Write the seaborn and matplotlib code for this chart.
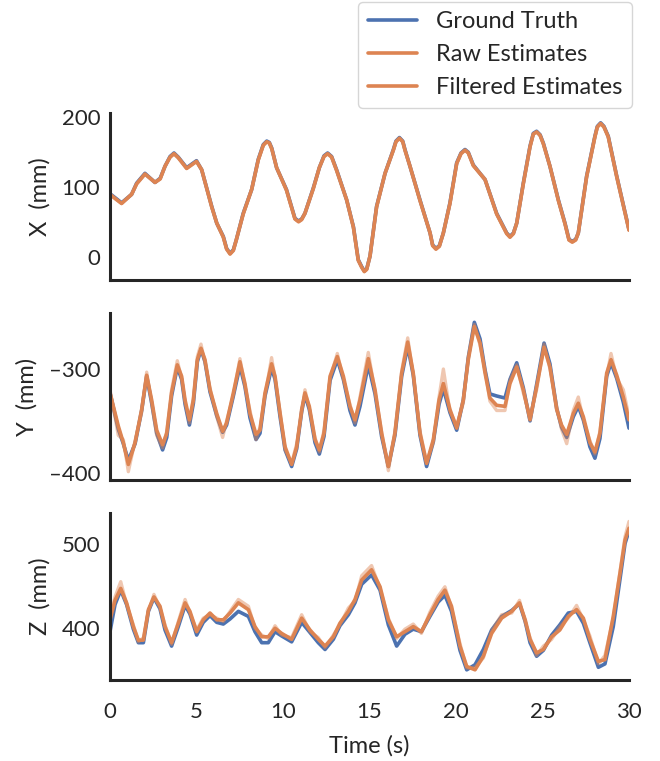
import matplotlib
matplotlib.use("Agg")
import matplotlib.pyplot as plt
from matplotlib.ticker import FuncFormatter
import seaborn as sns
import pandas as pd

# ---------------- data ----------------
x_time = [0, 0.67, 1.25, 1.54, 2.02, 2.6, 2.9, 3.18, 3.47, 3.7,
          3.95, 4.43, 5.0, 5.3, 5.88, 6.17, 6.55, 6.74, 6.94, 7.13,
          7.3, 7.7, 8.19, 8.57, 8.86, 9.06, 9.21, 9.35, 9.63, 10.2,
          10.69, 10.9, 11.08, 11.27, 11.75, 12.1, 12.37, 12.58, 12.81, 13.1,
          13.68, 14.07, 14.35, 14.55, 14.7, 14.84, 15.03, 15.41, 15.9, 16.38,
          16.53, 16.73, 16.92, 17.05, 17.34, 17.92, 18.5, 18.65, 18.84, 19.04,
          19.27, 19.65, 20.04, 20.29, 20.52, 20.71, 21.0, 21.68, 22.35, 22.93,
          23.12, 23.32, 23.51, 23.89, 24.28, 24.47, 24.66, 24.86, 25.05, 25.43,
          25.92, 26.3, 26.53, 26.72, 26.92, 27.07, 27.55, 28.03, 28.17, 28.36,
          28.55, 28.8, 29.29, 30.0]
x_truth = [90, 77, 89, 105, 119, 106, 112, 129, 143, 148,
           142, 127, 137, 124, 72, 48, 29, 12, 5, 10,
           24, 62, 96, 139, 160, 165, 163, 155, 127, 96,
           55, 51, 54, 62, 98, 127, 144, 148, 143, 124,
           81, 43, -4, -14, -20, -17, 1, 72, 119, 153,
           165, 170, 165, 153, 129, 81, 34, 17, 12, 16,
           34, 77, 134, 148, 153, 149, 131, 110, 62, 34,
           29, 34, 48, 105, 158, 176, 179, 174, 162, 129,
           81, 48, 25, 22, 25, 34, 115, 172, 186, 191,
           186, 172, 115, 39]
x_raw = [88, 76, 90, 104, 118, 107, 111, 130, 142, 147,
         142, 126, 136, 125, 71, 49, 28, 12, 4, 10,
         25, 61, 97, 138, 159, 164, 163, 154, 128, 95,
         54, 50, 54, 63, 97, 128, 143, 147, 143, 123,
         82, 42, -5, -15, -21, -17, 2, 71, 120, 152,
         164, 169, 165, 152, 130, 80, 35, 16, 11, 16,
         35, 76, 133, 148, 152, 149, 130, 111, 61, 34,
         28, 34, 49, 104, 157, 175, 178, 174, 161, 130,
         80, 47, 24, 21, 25, 35, 114, 171, 185, 190,
         186, 171, 116, 38]
x_filtered = [89, 76, 89, 104, 118, 106, 111, 129, 142, 147,
              141, 126, 136, 124, 71, 48, 28, 11, 4, 9,
              24, 61, 96, 138, 159, 164, 162, 154, 127, 95,
              54, 50, 53, 62, 97, 127, 143, 147, 142, 123,
              81, 42, -5, -15, -21, -18, 1, 71, 119, 152,
              164, 169, 164, 152, 129, 80, 34, 16, 11, 15,
              34, 76, 133, 147, 152, 148, 130, 110, 61, 33,
              28, 33, 48, 104, 157, 175, 178, 173, 161, 129,
              80, 47, 24, 21, 24, 34, 114, 171, 185, 190,
              185, 171, 114, 38]

y_time = [0, 0.48, 0.77, 1.06, 1.45, 1.83, 2.12, 2.41, 2.7, 3.04, 3.28, 3.56, 3.89, 4.14,
          4.34, 4.59, 4.82, 5.05, 5.26, 5.49, 5.78, 6.17, 6.51, 6.74, 7.13, 7.51, 7.8, 8.09,
          8.44, 8.67, 8.96, 9.34, 9.54, 9.83, 10.12, 10.5, 10.79, 11.08, 11.27, 11.52, 11.85,
          12.1, 12.37, 12.72, 13.14, 13.49, 13.87, 14.16, 14.45, 14.93, 15.32, 15.7, 16.09,
          16.47, 16.86, 17.21, 17.53, 17.92, 18.3, 18.69, 19.02, 19.27, 19.65, 20.04, 20.42,
          20.71, 21.06, 21.39, 21.68, 21.96, 22.35, 22.83, 23.12, 23.51, 23.89, 24.28, 24.66,
          25.09, 25.43, 25.82, 26.1, 26.4, 26.78, 27.07, 27.36, 27.74, 28.03, 28.32, 28.71,
          28.96, 29.29, 29.67, 30.0]
y_truth = [-323, -358, -372, -388, -372, -340, -307, -333, -362, -378, -366, -326, -298, -310,
           -334, -354, -333, -293, -281, -293, -322, -345, -361, -354, -326, -297, -317, -347,
           -368, -362, -326, -299, -310, -346, -378, -394, -377, -341, -325, -339, -371,
           -382, -365, -311, -291, -310, -340, -354, -336, -296, -324, -365, -394,
           -364, -307, -278, -306, -364, -394, -370, -334, -319, -342, -359, -330,
           -289, -255, -271, -301, -324, -326, -328, -310, -294, -318, -350, -315,
           -275, -295, -338, -356, -366, -346, -336, -349, -375, -386, -367, -307,
           -294, -309, -332, -357]
y_raw = [-320, -364, -368, -399, -369, -342, -303, -333, -364, -376, -360, -320, -292, -309,
         -332, -352, -327, -288, -276, -294, -318, -346, -366, -350, -325, -290, -316, -340,
         -368, -356, -326, -289, -309, -341, -378, -391, -372, -342, -320, -338, -366,
         -380, -359, -309, -285, -310, -334, -352, -327, -284, -322, -360, -398,
         -360, -302, -270, -306, -360, -390, -371, -327, -300, -341, -354, -333,
         -288, -257, -277, -301, -331, -340, -340, -311, -296, -323, -346, -320,
         -276, -300, -336, -358, -372, -340, -327, -349, -369, -382, -360, -307,
         -285, -309, -320, -346]
y_filtered = [-323, -355, -371, -392, -371, -339, -306, -330, -359, -373, -362, -323, -296, -307,
              -330, -349, -330, -291, -280, -291, -320, -343, -360, -352, -323, -293, -314, -343,
              -363, -359, -323, -295, -307, -343, -375, -392, -375, -339, -323, -336, -368,
              -378, -362, -307, -288, -307, -336, -349, -330, -290, -320, -362, -394,
              -362, -304, -274, -304, -362, -391, -368, -330, -314, -339, -357, -330,
              -291, -259, -275, -304, -328, -335, -336, -314, -298, -320, -349, -317,
              -279, -298, -339, -354, -363, -343, -333, -346, -371, -380, -362, -304,
              -291, -306, -327, -349]

z_time = [0, 0.29, 0.62, 0.96, 1.35, 1.64, 1.93, 2.22, 2.54, 2.89, 3.18, 3.56, 3.95, 4.34,
          4.62, 5.01, 5.39, 5.78, 6.17, 6.55, 6.94, 7.42, 8.0, 8.38, 8.77, 9.15, 9.54, 9.92,
          10.5, 11.08, 11.56, 12.04, 12.43, 12.91, 13.29, 13.78, 14.16, 14.55, 15.12, 15.61,
          16.09, 16.57, 17.05, 17.53, 18.0, 18.49, 18.97, 19.36, 19.74, 20.23, 20.62, 21.1,
          21.58, 22.06, 22.64, 23.22, 23.67, 24.0, 24.28, 24.66, 25.05, 25.53, 26.0, 26.49,
          26.97, 27.36, 27.74, 28.23, 28.61, 29.09, 29.48, 29.77, 30.0]
z_truth = [396, 428, 445, 428, 399, 383, 383, 420, 436, 423, 398, 379, 402, 427,
           417, 392, 407, 415, 407, 405, 411, 420, 414, 396, 383, 383, 396, 391,
           384, 407, 395, 383, 375, 387, 403, 416, 430, 452, 463, 445,
           404, 379, 393, 399, 396, 414, 431, 439, 420, 374, 351, 357,
           375, 398, 414, 421, 429, 408, 383, 367, 374, 392, 404, 418,
           420, 406, 383, 354, 358, 402, 458, 500, 515]
z_raw = [412, 437, 455, 428, 404, 384, 389, 420, 440, 424, 404, 381, 408, 434,
         418, 398, 412, 416, 412, 408, 420, 434, 426, 400, 392, 388, 403, 392,
         389, 416, 396, 389, 377, 392, 404, 424, 432, 462, 474, 447,
         412, 388, 399, 405, 394, 419, 438, 449, 424, 382, 353, 354,
         365, 397, 416, 418, 433, 407, 389, 368, 379, 387, 402, 412,
         427, 410, 391, 358, 368, 412, 467, 508, 526]
z_filtered = [410, 433, 447, 430, 402, 386, 386, 422, 437, 426, 402, 383, 406, 430,
              420, 396, 410, 418, 410, 410, 418, 430, 422, 402, 390, 390, 400, 394,
              387, 412, 398, 387, 379, 390, 406, 420, 434, 457, 469, 449,
              410, 390, 396, 402, 396, 416, 434, 445, 426, 379, 355, 351,
              367, 394, 412, 420, 430, 410, 387, 371, 375, 390, 398, 414,
              422, 412, 387, 361, 363, 414, 465, 504, 518]

axis_names = ["X", "Y", "Z"]
series_names = ["Ground Truth", "Raw Estimates", "Filtered Estimates"]
x_ticks = [0, 5, 10, 15, 20, 25, 30]

# ---------------- style ----------------
sns.set_theme(style="white")
plt.rcParams["font.family"] = ["Lato", "DejaVu Sans"]
plt.rcParams["font.size"] = 16
plt.rcParams["axes.edgecolor"] = ".15"
plt.rcParams["text.color"] = ".15"
plt.rcParams["axes.labelcolor"] = ".15"
plt.rcParams["xtick.color"] = ".15"
plt.rcParams["ytick.color"] = ".15"
plt.rcParams["lines.solid_joinstyle"] = "round"
plt.rcParams["lines.solid_capstyle"] = "round"

blue, orange = sns.color_palette("deep")[0], sns.color_palette("deep")[1]

fig = plt.figure(figsize=(6.6, 7.61), dpi=100)
left, width, height = 110 / 660, 519 / 660, 167 / 761
bottoms = [1 - 280 / 761, 1 - 480 / 761, 1 - 680 / 761]
axes = [fig.add_axes([left, b, width, height]) for b in bottoms]

panels = [
    (x_time, x_truth, x_raw, x_filtered, (-33, 205), [0, 100, 200]),
    (y_time, y_truth, y_raw, y_filtered, (-407, -246), [-400, -300]),
    (z_time, z_truth, z_raw, z_filtered, (339, 536), [400, 500]),
]

minus_fmt = FuncFormatter(lambda v, p: f"{int(v)}".replace("-", "\u2013"))

for ax, name, (t, gt, raw, filt, ylim, yticks) in zip(axes, axis_names, panels):
    df = pd.DataFrame({"t": t, "gt": gt, "raw": raw, "filt": filt})
    sns.lineplot(data=df, x="t", y="gt", ax=ax, color=blue, lw=2.6, sort=False,
                 estimator=None, label=series_names[0])
    sns.lineplot(data=df, x="t", y="raw", ax=ax, color=orange, lw=2.4, alpha=0.45,
                 sort=False, estimator=None, label=series_names[1])
    sns.lineplot(data=df, x="t", y="filt", ax=ax, color=orange, lw=2.6, sort=False,
                 estimator=None, label=series_names[2])
    ax.set_xlim(0, 30)
    ax.set_ylim(*ylim)
    ax.set_yticks(yticks)
    ax.yaxis.set_major_formatter(minus_fmt)
    ax.set_xticks(x_ticks)
    ax.set_ylabel(f"{name}  (mm)", fontsize=17, labelpad=8)
    ax.set_xlabel("")
    ax.tick_params(axis="y", labelsize=16, length=0, pad=7)
    ax.tick_params(axis="x", labelsize=16, length=0, pad=15.5)
    for s in ["left", "bottom"]:
        ax.spines[s].set_linewidth(2.2)
    sns.despine(ax=ax)
    ax.get_legend().remove()

for ax in axes[:2]:
    ax.set_xticklabels([])
axes[2].set_xlabel("Time (s)", fontsize=17, labelpad=10)
fig.align_ylabels(axes)

handles, labels = axes[0].get_legend_handles_labels()
leg = fig.legend(handles, labels, loc="upper right", bbox_to_anchor=(632 / 660, 1 - 2 / 761),
                 borderaxespad=0, fontsize=17, frameon=True, handlelength=2.1,
                 handletextpad=0.8)
for h in leg.get_lines():
    h.set_alpha(1)
    h.set_linewidth(2.6)

fig.savefig("out.png", dpi=100)
